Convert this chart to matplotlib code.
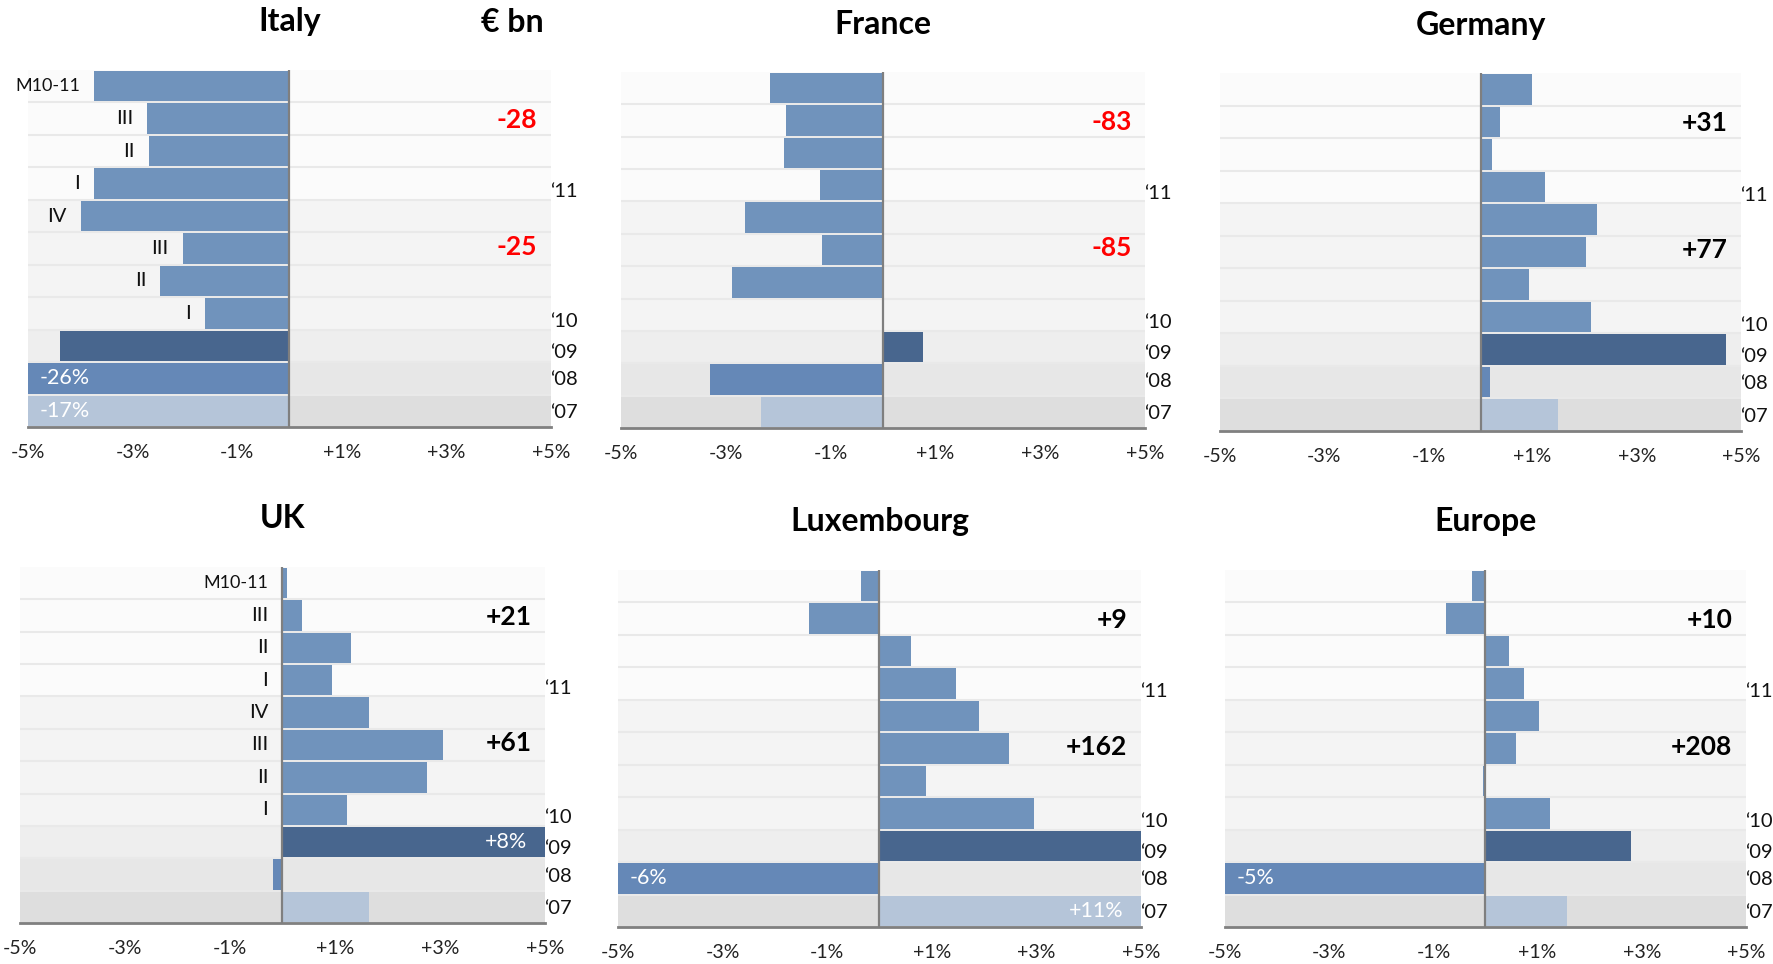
import matplotlib.pyplot as plt
import numpy as np

plt.rcParams['font.family'] = ['Lato', 'DejaVu Sans']

# rows from top to bottom: 2011 quarters, 2010 quarters, then full years
quarter_labels = ["M10-11", "III", "II", "I", "IV", "III", "II", "I"]
year_labels = ["\u201811", "\u201810", "\u201809", "\u201808", "\u201807"]
year_rows = [3.25, 7.25, 8.2, 9.05, 10.05]

ticks = [-5, -3, -1, 1, 3, 5]
tick_labels = ["-5%", "-3%", "-1%", "+1%", "+3%", "+5%"]

italy = [-3.73, -2.72, -2.69, -3.73, -3.99, -2.04, -2.47, -1.61, -4.39, -26, -17]
france = [-2.15, -1.86, -1.89, -1.21, -2.64, -1.17, -2.89, 0.0, 0.76, -3.30, -2.32]
germany = [0.98, 0.37, 0.22, 1.23, 2.24, 2.02, 0.94, 2.13, 4.72, 0.19, 1.49]
uk = [0.09, 0.38, 1.30, 0.95, 1.65, 3.05, 2.76, 1.23, 8, -0.19, 1.65]
luxembourg = [-0.35, -1.35, 0.61, 1.47, 1.90, 2.48, 0.89, 2.95, 5.0, -6, 11]
europe = [-0.26, -0.75, 0.45, 0.74, 1.03, 0.59, -0.05, 1.23, 2.80, -5, 1.57]

# flows in EUR bn: 2011 YTD, 2010
italy_totals = ["-28", "-25"]
france_totals = ["-83", "-85"]
germany_totals = ["+31", "+77"]
uk_totals = ["+21", "+61"]
luxembourg_totals = ["+9", "+162"]
europe_totals = ["+10", "+208"]

# labels for bars that run off the scale
italy_inbar = {9: "-26%", 10: "-17%"}
uk_inbar = {8: "+8%"}
luxembourg_inbar = {9: "-6%", 10: "+11%"}
europe_inbar = {9: "-5%"}

bar_colors = ['#7093bc'] * 8 + ['#48668e', '#6588b7', '#b5c5d9']
band_colors = ['#fbfbfb'] * 4 + ['#f4f4f4'] * 4 + ['#eeeeee', '#e7e7e7', '#dedede']

W, H = 1774, 964
fig = plt.figure(figsize=(W / 100, H / 100), dpi=100)


def panel(box, title, values, totals, inbar, show_quarters=False, unit=False):
    x0, y0, x1, y1 = box
    ax = fig.add_axes([x0 / W, 1 - y1 / H, (x1 - x0) / W, (y1 - y0) / H])
    n = len(values)
    rows = np.arange(n)

    for i in rows:
        ax.axhspan(i - 0.5, i + 0.5, color=band_colors[i], lw=0, zorder=0)
        if i > 0:
            ax.axhline(i - 0.5, color='#e9e9e9', lw=1.5, zorder=0.5)

    ax.barh(rows, values, height=0.94, color=bar_colors, edgecolor='none', zorder=2)

    ax.set_xlim(-5, 5)
    ax.set_ylim(n - 0.5, -0.5)
    ax.axvline(0, color='#7f7f7f', lw=1.6, zorder=3)
    for s in ['top', 'right', 'left']:
        ax.spines[s].set_visible(False)
    ax.spines['bottom'].set_color('#808080')
    ax.spines['bottom'].set_linewidth(2)
    ax.spines['bottom'].set_zorder(4)
    ax.set_yticks([])
    ax.set_xticks(ticks)
    ax.set_xticklabels(tick_labels, fontsize=14, color='#222222')
    ax.tick_params(axis='x', length=0, pad=12)

    h_px = y1 - y0
    ax.text(0.5, 1 + 48 / h_px, title, transform=ax.transAxes, ha='center',
            va='center', fontsize=23, fontweight='bold')
    if unit:
        ax.text(0.985, 1 + 48 / h_px, "\u20ac bn", transform=ax.transAxes,
                ha='right', va='center', fontsize=23, fontweight='bold')

    trans = ax.get_yaxis_transform()
    for lab, y in zip(year_labels, year_rows):
        ax.text(0.999, y, lab, transform=trans, ha='left', va='center',
                fontsize=14.5, color='#111111')

    for txt, y in zip(totals, [1.05, 4.95]):
        col = 'red' if txt.startswith('-') else 'black'
        ax.text(4.74, y, txt, ha='right', va='center', fontsize=19,
                fontweight='bold', color=col, zorder=5)

    if show_quarters:
        for i, lab in enumerate(quarter_labels):
            fs = 13 if lab.startswith('M') else 14.5
            ax.text(min(values[i], 0) - 0.27, i, lab, ha='right', va='center',
                    fontsize=fs, color='#111111', zorder=5)

    for i, lab in inbar.items():
        if values[i] < 0:
            ax.text(-4.78, i, lab, ha='left', va='center', fontsize=15.5,
                    color='white', zorder=5)
        else:
            ax.text(4.66, i, lab, ha='right', va='center', fontsize=15.5,
                    color='white', zorder=5)
    return ax


panel((28, 70, 551, 427), "Italy", italy, italy_totals, italy_inbar,
      show_quarters=True, unit=True)
panel((621, 72, 1145, 428), "France", france, france_totals, {})
panel((1220, 73, 1741, 431), "Germany", germany, germany_totals, {})
panel((20, 567, 545, 923), "UK", uk, uk_totals, uk_inbar, show_quarters=True)
panel((618, 570, 1141, 927), "Luxembourg", luxembourg, luxembourg_totals,
      luxembourg_inbar)
panel((1225, 570, 1746, 927), "Europe", europe, europe_totals, europe_inbar)

fig.savefig("out.png", dpi=100, facecolor='white')
